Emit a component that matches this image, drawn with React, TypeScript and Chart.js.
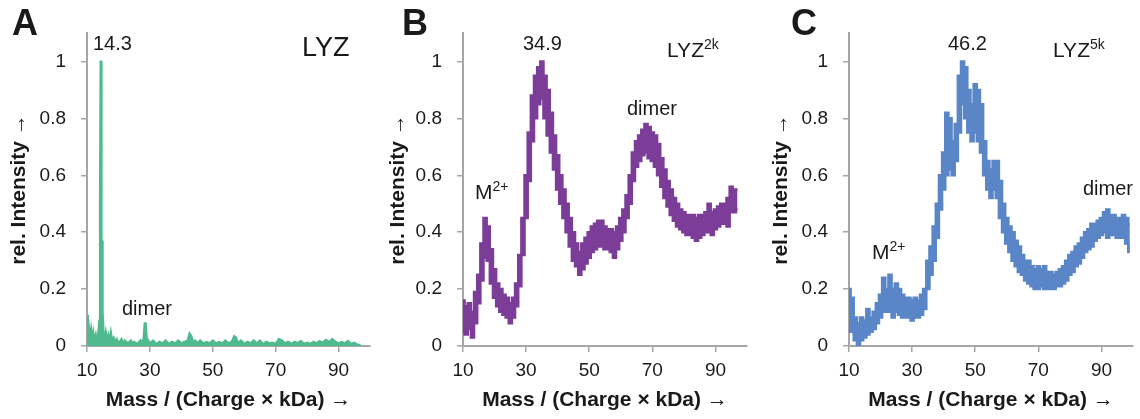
import { useEffect, useRef } from "react";
import { Chart, registerables } from "chart.js";

Chart.register(...registerables);

// ---------- tick labels ----------
const X_TICKS = [10, 30, 50, 70, 90];
const Y_TICKS = [0, 0.2, 0.4, 0.6, 0.8, 1];
const Y_TICK_LABELS = ["0", "0.2", "0.4", "0.6", "0.8", "1"];
const X_TITLE = "Mass / (Charge × kDa) →";
const Y_TITLE = "rel. Intensity →";

// ---------- panel A: LYZ ----------
const LYZ_MASS = [
  10, 10.3, 10.6, 11, 11.3, 11.7, 12, 12.4, 12.8, 13.2, 13.6, 13.9, 14.1, 14.3, 14.5, 14.65, 14.8, 15.0, 15.3, 15.6,
  16, 16.4, 16.8, 17.2, 17.6, 18, 18.5, 19, 19.5, 20, 21, 21.5, 22, 23, 24, 24.5, 25, 26, 27, 27.5,
  28, 28.3, 28.7, 29, 29.5, 30, 31, 32, 33, 34, 35, 36, 37, 38, 39, 40, 41, 42, 42.6, 43.2,
  43.8, 44.5, 45, 46, 47, 48, 49, 50, 51, 52, 53, 54, 55, 56, 56.8, 57.4, 58, 59, 60, 61,
  62, 63, 64, 65, 66, 67, 68, 69, 70, 71, 72, 73, 74, 75, 76, 77, 78, 79, 80, 81,
  82, 83, 84, 85, 86, 87, 88, 89, 90, 91, 92, 93, 94, 95, 96, 97,
];
const LYZ_INTENSITY = [
  0.11, 0.05, 0.07, 0.03, 0.06, 0.02, 0.05, 0.02, 0.04, 0.01, 0.05, 0.09, 0.5, 1.0, 1.0, 0.37, 0.37, 0.12, 0.05, 0.02,
  0.05, 0.02, 0.04, 0.02, 0.05, 0.02, 0.03, 0.015, 0.025, 0.01, 0.025, 0.01, 0.02, 0.01, 0.02, 0.01, 0.015, 0.008, 0.02, 0.01,
  0.03, 0.08, 0.08, 0.03, 0.02, 0.01, 0.02, 0.008, 0.015, 0.01, 0.02, 0.008, 0.015, 0.01, 0.02, 0.01, 0.015, 0.02, 0.045, 0.035,
  0.015, 0.02, 0.01, 0.02, 0.01, 0.015, 0.01, 0.02, 0.01, 0.015, 0.01, 0.02, 0.01, 0.015, 0.035, 0.03, 0.012, 0.02, 0.008, 0.015,
  0.01, 0.02, 0.01, 0.02, 0.008, 0.015, 0.01, 0.012, 0.008, 0.025, 0.02, 0.01, 0.015, 0.008, 0.015, 0.01, 0.018, 0.008, 0.012, 0.008,
  0.015, 0.01, 0.018, 0.012, 0.022, 0.015, 0.025, 0.015, 0.01, 0.015, 0.01, 0.018, 0.008, 0.012, 0.005, 0.004,
];

// ---------- panel B: LYZ2k (upper / lower edge of the noisy trace) ----------
const LYZ2K_MASS = [
  10, 11, 12, 13, 14, 15, 16, 17, 18, 19, 20, 21, 22, 23, 24, 25, 26, 27, 28, 29,
  30, 31, 32, 33, 34, 35, 36, 37, 38, 39, 40, 41, 42, 43, 44, 45, 46, 47, 48, 49,
  50, 51, 52, 53, 54, 55, 56, 57, 58, 59, 60, 61, 62, 63, 64, 65, 66, 67, 68, 69,
  70, 71, 72, 73, 74, 75, 76, 77, 78, 79, 80, 81, 82, 83, 84, 85, 86, 87, 88, 89,
  90, 91, 92, 93, 94, 95, 96, 97,
];
const LYZ2K_HIGH = [
  0.16, 0.14, 0.15, 0.12, 0.19, 0.25, 0.36, 0.45, 0.42, 0.34, 0.27, 0.22, 0.2, 0.18, 0.17, 0.15, 0.17, 0.22, 0.32, 0.45,
  0.6, 0.75, 0.88, 0.95, 0.98, 1.0, 0.95, 0.9, 0.82, 0.74, 0.67, 0.6, 0.55, 0.5, 0.45, 0.4, 0.36, 0.33, 0.36, 0.38,
  0.4, 0.42, 0.43, 0.44, 0.44, 0.42, 0.41, 0.41, 0.4, 0.42, 0.45, 0.48, 0.53, 0.6, 0.68, 0.72, 0.74, 0.76, 0.78, 0.77,
  0.75, 0.74, 0.71, 0.66, 0.62, 0.58, 0.55, 0.52, 0.5, 0.48, 0.47, 0.46, 0.46, 0.46, 0.45, 0.46, 0.46, 0.47, 0.5, 0.47,
  0.48, 0.49, 0.5, 0.5, 0.52, 0.56, 0.55, 0.55,
];
const LYZ2K_LOW = [
  0.05, 0.04, 0.06, 0.03, 0.08, 0.15, 0.23, 0.31, 0.3, 0.22, 0.17, 0.14, 0.12, 0.11, 0.1, 0.08, 0.1, 0.14, 0.21, 0.32,
  0.45, 0.58, 0.72, 0.8, 0.85, 0.87, 0.8, 0.74, 0.68, 0.62, 0.55, 0.5, 0.45, 0.4, 0.35, 0.3, 0.28, 0.25, 0.27, 0.29,
  0.31, 0.33, 0.34, 0.35, 0.35, 0.34, 0.34, 0.33, 0.31, 0.34, 0.37, 0.4, 0.45, 0.5, 0.58, 0.63, 0.65, 0.67, 0.68, 0.66,
  0.65, 0.63, 0.6, 0.56, 0.52, 0.49, 0.46, 0.44, 0.42, 0.41, 0.4, 0.39, 0.39, 0.38, 0.37, 0.38, 0.39, 0.4, 0.4, 0.39,
  0.41, 0.42, 0.43, 0.43, 0.42, 0.47, 0.47, 0.48,
];

// ---------- panel C: LYZ5k ----------
const LYZ5K_MASS = [
  10, 11, 12, 13, 14, 15, 16, 17, 18, 19, 20, 21, 22, 23, 24, 25, 26, 27, 28, 29,
  30, 31, 32, 33, 34, 35, 36, 37, 38, 39, 40, 41, 42, 43, 44, 45, 46, 47, 48, 49,
  50, 51, 52, 53, 54, 55, 56, 57, 58, 59, 60, 61, 62, 63, 64, 65, 66, 67, 68, 69,
  70, 71, 72, 73, 74, 75, 76, 77, 78, 79, 80, 81, 82, 83, 84, 85, 86, 87, 88, 89,
  90, 91, 92, 93, 94, 95, 96, 97, 98, 99,
];
const LYZ5K_HIGH = [
  0.2, 0.17, 0.1, 0.08, 0.1, 0.09, 0.13, 0.1, 0.12, 0.15, 0.18, 0.24, 0.2, 0.25, 0.2, 0.22, 0.2, 0.18, 0.17, 0.17,
  0.16, 0.17, 0.16, 0.18, 0.2, 0.3, 0.35, 0.42, 0.5, 0.6, 0.68, 0.82, 0.8, 0.72, 0.78, 0.95, 1.0, 0.98, 0.9, 0.85,
  0.92, 0.9, 0.85, 0.72, 0.65, 0.62, 0.65, 0.65, 0.58, 0.5, 0.45, 0.42, 0.4, 0.37, 0.35, 0.32, 0.3, 0.3, 0.28, 0.27,
  0.28, 0.27, 0.28, 0.26, 0.26, 0.25, 0.26, 0.27, 0.28, 0.3, 0.32, 0.33, 0.35, 0.36, 0.38, 0.4, 0.41, 0.43, 0.43, 0.44,
  0.45, 0.47, 0.48, 0.46, 0.46, 0.45, 0.45, 0.46, 0.45, 0.43,
];
const LYZ5K_LOW = [
  0.05, 0.05, 0.02, 0.0, 0.02, 0.03, 0.04, 0.05, 0.06, 0.08, 0.1, 0.12, 0.12, 0.12, 0.1, 0.12, 0.11, 0.1, 0.1, 0.1,
  0.09, 0.1, 0.1, 0.11, 0.13, 0.2, 0.25, 0.3, 0.38, 0.48, 0.55, 0.6, 0.62, 0.6, 0.65, 0.75, 0.85, 0.8, 0.75, 0.72,
  0.75, 0.72, 0.68, 0.6, 0.55, 0.52, 0.55, 0.52, 0.45, 0.4, 0.36, 0.33, 0.3, 0.28, 0.26, 0.25, 0.23, 0.22, 0.21, 0.2,
  0.2, 0.21, 0.2, 0.2, 0.2, 0.2, 0.21, 0.21, 0.22, 0.23, 0.25, 0.26, 0.28, 0.29, 0.31, 0.33, 0.34, 0.35, 0.37, 0.38,
  0.39, 0.4, 0.38, 0.39, 0.39, 0.38, 0.38, 0.38, 0.36, 0.33,
];

// ---------- styling / layout ----------
const FONT = "'Liberation Sans', Arial, Helvetica, sans-serif";
const AXIS_GRAY = "#a6a6a6";
const TEXT = "#1a1a1a";

type Part = { t: string; size: number; rise?: number; bold?: boolean };
type Note = { x: number; y: number; parts: Part[] };

const pts = (mass: number[], vals: number[]) => mass.map((m, i) => ({ x: m, y: vals[i] }));

function datasetsFor(kind: string, color: string) {
  if (kind === "A") {
    return [
      {
        data: pts(LYZ_MASS, LYZ_INTENSITY),
        borderColor: color,
        backgroundColor: color,
        borderWidth: 2,
        pointRadius: 0,
        tension: 0,
        fill: "origin",
      },
    ];
  }
  const mass = kind === "B" ? LYZ2K_MASS : LYZ5K_MASS;
  const hi = kind === "B" ? LYZ2K_HIGH : LYZ5K_HIGH;
  const lo = kind === "B" ? LYZ2K_LOW : LYZ5K_LOW;
  const common = {
    borderColor: color,
    backgroundColor: color,
    borderWidth: 2.5,
    pointRadius: 0,
    tension: 0,
    stepped: "middle",
  };
  return [
    { ...common, data: pts(mass, hi), fill: false },
    { ...common, data: pts(mass, lo), fill: "-1" },
  ];
}

const PANELS = [
  {
    kind: "A",
    left: 0,
    yWidth: 87,
    padRight: 10,
    yTitlePad: 8,
    color: "#4fba8e",
    notes: [
      { x: 12, y: 35, parts: [{ t: "A", size: 36, bold: true }] },
      { x: 93, y: 50, parts: [{ t: "14.3", size: 20 }] },
      { x: 302, y: 56, parts: [{ t: "LYZ", size: 27 }] },
      { x: 122, y: 315, parts: [{ t: "dimer", size: 20 }] },
    ] as Note[],
  },
  {
    kind: "B",
    left: 380,
    yWidth: 83,
    padRight: 13,
    yTitlePad: 7,
    color: "#7b3d98",
    notes: [
      { x: 22, y: 35, parts: [{ t: "B", size: 36, bold: true }] },
      { x: 143, y: 50, parts: [{ t: "34.9", size: 20 }] },
      { x: 287, y: 57, parts: [{ t: "LYZ", size: 21 }, { t: "2k", size: 14, rise: 8 }] },
      { x: 95, y: 199, parts: [{ t: "M", size: 21 }, { t: "2+", size: 14, rise: 8 }] },
      { x: 247, y: 115, parts: [{ t: "dimer", size: 20 }] },
    ] as Note[],
  },
  {
    kind: "C",
    left: 760,
    yWidth: 89,
    padRight: 7,
    yTitlePad: 10,
    color: "#5a86c8",
    notes: [
      { x: 31, y: 35, parts: [{ t: "C", size: 36, bold: true }] },
      { x: 188, y: 50, parts: [{ t: "46.2", size: 20 }] },
      { x: 293, y: 57, parts: [{ t: "LYZ", size: 21 }, { t: "5k", size: 14, rise: 8 }] },
      { x: 112, y: 259, parts: [{ t: "M", size: 21 }, { t: "2+", size: 14, rise: 8 }] },
      { x: 323, y: 195, parts: [{ t: "dimer", size: 20 }] },
    ] as Note[],
  },
];

const notesPlugin = {
  id: "notes",
  afterDraw(chart: any, _args: any, opts: any) {
    const ctx = chart.ctx as CanvasRenderingContext2D;
    const notes: Note[] = opts.notes || [];
    ctx.save();
    ctx.fillStyle = TEXT;
    ctx.textAlign = "left";
    ctx.textBaseline = "alphabetic";
    notes.forEach((n) => {
      let x = n.x;
      n.parts.forEach((p) => {
        ctx.font = `${p.bold ? "bold " : ""}${p.size}px ${FONT}`;
        ctx.fillText(p.t, x, n.y - (p.rise || 0));
        x += ctx.measureText(p.t).width;
      });
    });
    ctx.restore();
  },
};

function Panel({ cfg }: { cfg: (typeof PANELS)[number] }) {
  const ref = useRef<HTMLCanvasElement | null>(null);
  useEffect(() => {
    if (!ref.current) return;
    const chart = new Chart(ref.current, {
      type: "line",
      data: { datasets: datasetsFor(cfg.kind, cfg.color) },
      options: {
        animation: false,
        responsive: false,
        devicePixelRatio: 1,
        layout: { padding: { top: 33, right: cfg.padRight, left: 0, bottom: 0 } },
        plugins: {
          legend: { display: false },
          tooltip: { enabled: false },
          filler: { propagate: false },
          notes: { notes: cfg.notes },
        } as any,
        scales: {
          x: {
            type: "linear",
            min: 10,
            max: 100,
            afterBuildTicks: (s: any) => {
              s.ticks = X_TICKS.map((v) => ({ value: v }));
            },
            afterFit: (s: any) => {
              s.height = 73;
            },
            ticks: {
              autoSkip: false,
              maxRotation: 0,
              padding: 7,
              color: TEXT,
              font: { family: FONT, size: 19 },
              callback: (v: any) => String(v),
            },
            grid: { drawOnChartArea: false, drawTicks: true, tickLength: 6, color: AXIS_GRAY, lineWidth: 1.5 },
            border: { display: true, color: AXIS_GRAY, width: 2 },
            title: {
              display: true,
              text: X_TITLE,
              color: TEXT,
              font: { family: FONT, size: 21, weight: "bold" },
              padding: { top: 0, bottom: 6 },
            },
          },
          y: {
            type: "linear",
            min: 0,
            max: 1.1,
            afterBuildTicks: (s: any) => {
              s.ticks = Y_TICKS.map((v) => ({ value: v }));
            },
            afterFit: (s: any) => {
              s.width = cfg.yWidth;
            },
            ticks: {
              autoSkip: false,
              padding: 15,
              color: TEXT,
              font: { family: FONT, size: 19 },
              callback: (_v: any, i: number) => Y_TICK_LABELS[i],
            },
            grid: { drawOnChartArea: false, drawTicks: true, tickLength: 6, color: AXIS_GRAY, lineWidth: 1.5 },
            border: { display: true, color: AXIS_GRAY, width: 2 },
            title: {
              display: true,
              text: Y_TITLE,
              color: TEXT,
              font: { family: FONT, size: 21, weight: "bold" },
              padding: { top: cfg.yTitlePad - 1, bottom: 0 },
            },
          },
        },
      },
      plugins: [notesPlugin],
    } as any);
    return () => chart.destroy();
  }, [cfg]);
  return (
    <canvas
      ref={ref}
      width={380}
      height={419}
      style={{ position: "absolute", left: cfg.left, top: 0, width: 380, height: 419 }}
    />
  );
}

export default function App() {
  return (
    <div style={{ position: "fixed", left: 0, top: 0, width: 1140, height: 419, background: "#fff", overflow: "hidden" }}>
      {PANELS.map((p, i) => (
        <Panel key={i} cfg={p} />
      ))}
    </div>
  );
}
